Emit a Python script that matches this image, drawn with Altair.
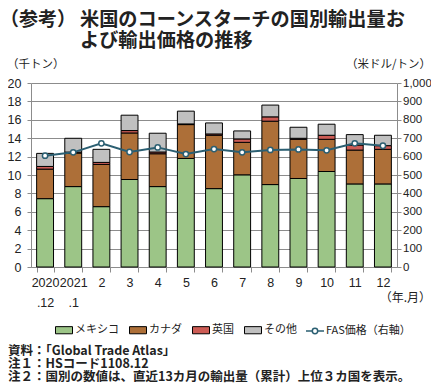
import altair as alt
import pandas as pd

# ---- data ----
months = ["2020|.12", "2021|.1", "2", "3", "4", "5", "6", "7", "8", "9", "10", "11", "12"]
series = ["メキシコ", "カナダ", "英国", "その他"]
mexico = [7.43, 8.74, 6.56, 9.51, 8.74, 11.80, 8.52, 10.02, 8.96, 9.62, 10.38, 9.03, 9.03]
canada = [3.21, 3.65, 4.59, 5.06, 3.57, 3.68, 5.80, 3.53, 6.89, 4.26, 3.50, 3.68, 3.76]
uk = [0.29, 0.10, 0.22, 0.26, 0.19, 0.07, 0.14, 0.37, 0.47, 0.11, 0.44, 0.55, 0.40]
other = [1.42, 1.50, 1.42, 1.67, 2.04, 1.39, 1.20, 0.87, 1.28, 1.20, 1.20, 1.13, 1.13]
price = [605, 623, 672, 625, 650, 614, 641, 623, 636, 639, 634, 672, 659]
price_label = "FAS価格（右軸）"
left_ticks = list(range(0, 21, 2))
right_ticks = list(range(0, 1001, 100))

colors = ["#9cc587", "#ad6f38", "#cd5c55", "#c0c0c0"]
TEAL = "#2b5f72"
FONT = "Noto Sans CJK JP"
NUM = "Liberation Sans"
INK = "#222222"
GRID = "#8c8c8c"

rows = []
for i, m in enumerate(months):
    for j, (s, vals) in enumerate(zip(series, [mexico, canada, uk, other])):
        rows.append({"month": m, "series": s, "order": j, "value": vals[i]})
bars_df = pd.DataFrame(rows)
line_df = pd.DataFrame({"month": months, "price": price, "label": price_label})

W, H = 366, 184

x_enc = alt.X(
    "month:N",
    sort=months,
    title=None,
    scale=alt.Scale(paddingInner=0.4, paddingOuter=0.2),
    axis=alt.Axis(
        title=None,
        labelExpr="isString(datum.value) ? split(datum.value, '|') : ''",
        labelAngle=0,
        tickBand="extent",
        domainColor=GRID,
        tickColor=GRID,
        tickSize=5,
        labelFont=NUM,
        labelFontSize=12.5,
        labelColor=INK,
        labelLineHeight=20,
        labelPadding=4,
        labelOverlap=False,
    ),
)
x_plain = alt.X("month:N", sort=months, title=None)

bars = alt.Chart(bars_df).mark_bar(stroke="black", strokeWidth=1).encode(
    x=x_enc,
    y=alt.Y(
        "value:Q",
        stack="zero",
        title=None,
        scale=alt.Scale(domain=[0, 20]),
        axis=alt.Axis(
            title=None,
            values=left_ticks,
            grid=True,
            gridColor=GRID,
            domainColor=GRID,
            tickColor=GRID,
            tickSize=4,
            labelPadding=6,
            labelFont=NUM,
            labelFontSize=12.5,
            labelColor=INK,
            labelOverlap=False,
        ),
    ),
    color=alt.Color(
        "series:N",
        sort=series,
        scale=alt.Scale(domain=series, range=colors),
        legend=alt.Legend(
            title=None,
            orient="none",
            direction="horizontal",
            legendX=24,
            legendY=238,
            symbolType="M-1,-0.42H1V0.42H-1Z",
            symbolSize=289,
            symbolStrokeColor="black",
            symbolStrokeWidth=1,
            labelFont=FONT,
            labelFontSize=11,
            labelColor=INK,
            labelOffset=2,
            columnPadding=8,
        ),
    ),
    order=alt.Order("order:Q", sort="ascending"),
)

right_axis = alt.Axis(
    title=None,
    orient="right",
    values=right_ticks,
    format=",d",
    grid=False,
    domainColor=GRID,
    tickColor=GRID,
    tickSize=4,
    labelPadding=1.5,
    labelFont=NUM,
    labelFontSize=11.5,
    labelColor=INK,
    labelOverlap=False,
)
y_right = alt.Y("price:Q", title=None, scale=alt.Scale(domain=[0, 1000]), axis=right_axis)

line = alt.Chart(line_df).mark_line(strokeWidth=2).encode(
    x=x_plain,
    y=y_right,
    stroke=alt.Stroke(
        "label:N",
        scale=alt.Scale(range=[TEAL]),
        legend=alt.Legend(
            title=None,
            orient="none",
            direction="horizontal",
            legendX=274,
            legendY=238,
            symbolType="M-1,0H-0.3M0.3,0H1M-0.3,0A0.3,0.3,0,1,1,0.3,0A0.3,0.3,0,1,1,-0.3,0Z",
            symbolSize=324,
            symbolFillColor="white",
            symbolStrokeColor=TEAL,
            symbolStrokeWidth=1.5,
            labelFont=FONT,
            labelFontSize=11,
            labelColor=INK,
            labelOffset=1,
        ),
    ),
)

points = alt.Chart(line_df).mark_point(
    filled=True, fill="white", stroke=TEAL, strokeWidth=1.5, size=28, opacity=1
).encode(
    x=x_plain,
    y=y_right,
)

price_layer = alt.layer(line, points)


def txt(t, x, y, size, weight="normal", align="left", font=FONT):
    return alt.Chart(pd.DataFrame({"t": [t]})).mark_text(
        align=align, baseline="middle", fontSize=size, fontWeight=weight,
        font=font, color=INK
    ).encode(text="t:N", x=alt.value(x), y=alt.value(y))


texts = [
    txt("（参考）", -31, -63, 19, "bold"),
    txt("米国のコーンスターチの国別輸出量お", 49, -63, 19.2, "bold"),
    txt("よび輸出価格の推移", 49, -42, 19.2, "bold"),
    txt("（千トン）", -24, -18, 11.5),
    txt("（米ドル/トン）", 400, -18, 11.5, align="right"),
    txt("（年.月）", 400, 215, 12, align="right"),
    txt("資料：「Global Trade Atlas」", -23, 268, 12.5, "bold"),
    txt("注１：HSコード1108.12", -23, 281, 12.5, "bold"),
    txt("注２：国別の数値は、直近13カ月の輸出量（累計）上位３カ国を表示。", -23, 294, 12.5, "bold"),
]

chart = alt.layer(bars, price_layer, *texts).resolve_scale(
    y="independent"
).properties(
    width=W,
    height=H,
    autosize=alt.AutoSizeParams(type="none"),
    padding={"left": 23, "top": 75, "right": 34, "bottom": 116},
).configure_view(stroke=None)

chart.save("out.html", embed_options={"renderer": "svg", "actions": False})
